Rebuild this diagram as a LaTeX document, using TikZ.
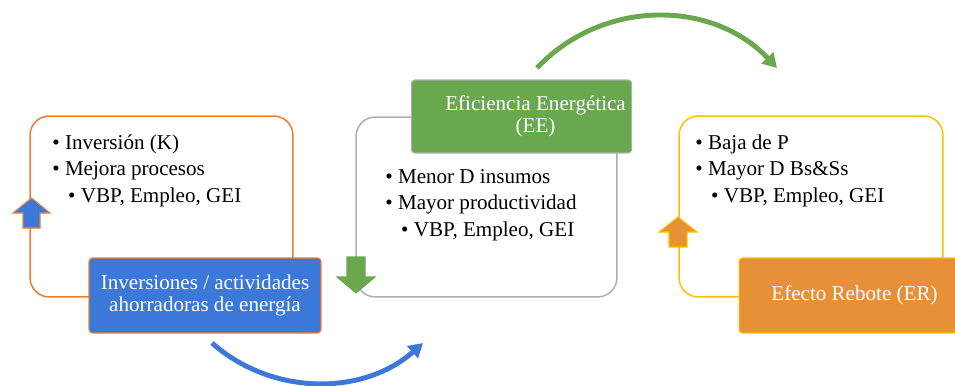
\documentclass[tikz,border=0pt]{standalone}
\usepackage{fontspec}
\setmainfont{Liberation Serif}
\usepackage{tikz}
\usetikzlibrary{arrows.meta}
\definecolor{azul}{RGB}{60,120,216}
\definecolor{naranja}{RGB}{237,125,49}
\definecolor{gris}{RGB}{175,175,175}
\definecolor{verde}{RGB}{106,168,79}
\definecolor{amarillo}{RGB}{255,192,0}
\definecolor{ocre}{RGB}{230,145,56}
\tikzset{
    %Define standard arrow tip
    >={Triangle[length=8pt,width=9pt]},
    %Define style for boxes
    marco/.style={
           rectangle,
           rounded corners=11pt,
           draw, line width=0.85pt,
           fill=white,
           inner sep=0pt},
    titulo/.style={
           rectangle,
           rounded corners=2pt,
           draw, line width=0.6pt,
           text=white,
           align=center,
           font=\fontsize{12}{12.8}\selectfont},
    lista/.style={
           anchor=base west,
           inner sep=0pt,
           align=left,
           font=\fontsize{12}{15}\selectfont},
    % Define arrow styles
    curva/.style={
           ->,
           line width=2.8pt},
    bloque/.style={
           line width=0.6pt,
           line join=miter}
}

\begin{document}
\begin{tikzpicture}[x=0.02cm,y=-0.02cm]
\useasboundingbox (0,0) rectangle (955,385);
% outline boxes
\node[marco, draw=naranja, minimum width=5.26cm, minimum height=3.62cm] (caja1) at (161.5,206.5) {};
\node[marco, draw=gris, minimum width=5.22cm, minimum height=3.6cm] (caja2) at (486.5,207) {};
\node[marco, draw=amarillo, minimum width=5.28cm, minimum height=3.62cm] (caja3) at (811,206.5) {};
% lists (base = last line)
\node[lista] (lista1) at (52,202) {\textbullet~Inversión (K)\\\textbullet~Mejora procesos\\\hspace*{9pt}\textbullet~VBP, Empleo, GEI};
\node[lista] (lista2) at (385,236) {\textbullet~Menor D insumos\\\textbullet~Mayor productividad\\\hspace*{9pt}\textbullet~VBP, Empleo, GEI};
\node[lista] (lista3) at (695,202) {\textbullet~Baja de P\\\textbullet~Mayor D Bs\&Ss\\\hspace*{9pt}\textbullet~VBP, Empleo, GEI};
% block arrows
\draw[bloque, fill=azul, draw=naranja] (31.5,198) -- (50,213) -- (40,213) -- (40,228) -- (23,228) -- (23,213) -- (13,213) -- cycle;
\draw[bloque, fill=verde, draw=verde] (356,293) -- (375,277) -- (365,277) -- (365,257) -- (347,257) -- (347,277) -- (337,277) -- cycle;
\draw[bloque, fill=ocre, draw=amarillo] (678,217) -- (697,232) -- (687,232) -- (687,247) -- (669,247) -- (669,232) -- (659,232) -- cycle;
% title boxes
\node[titulo, fill=azul, draw=naranja, minimum width=4.64cm, minimum height=1.5cm] (inv) at (205,295.5) {Inversiones / actividades\\ahorradoras de energía};
\node[titulo, fill=verde, draw=gris, minimum width=4.26cm, minimum height=1.46cm] (ee) at (521.5,116.5) {\hspace*{16pt}Eficiencia Energética\\\hspace*{16pt}(EE)};
\node[titulo, fill=ocre, draw=amarillo, minimum width=4.62cm, minimum height=1.5cm] (er) at (854.5,295.5) {Efecto Rebote (ER)};
% curved arrows
\coordinate (b1) at (212,343);
\coordinate (b2) at (423,343);
\coordinate (g1) at (537,68);
\coordinate (g2) at (777,68);
\draw[curva, azul] (b1) .. controls (272,396) and (363,396) .. (b2);
\draw[curva, verde] (g1) .. controls (602,-1) and (712,-1) .. (g2);
\end{tikzpicture}
\end{document}
